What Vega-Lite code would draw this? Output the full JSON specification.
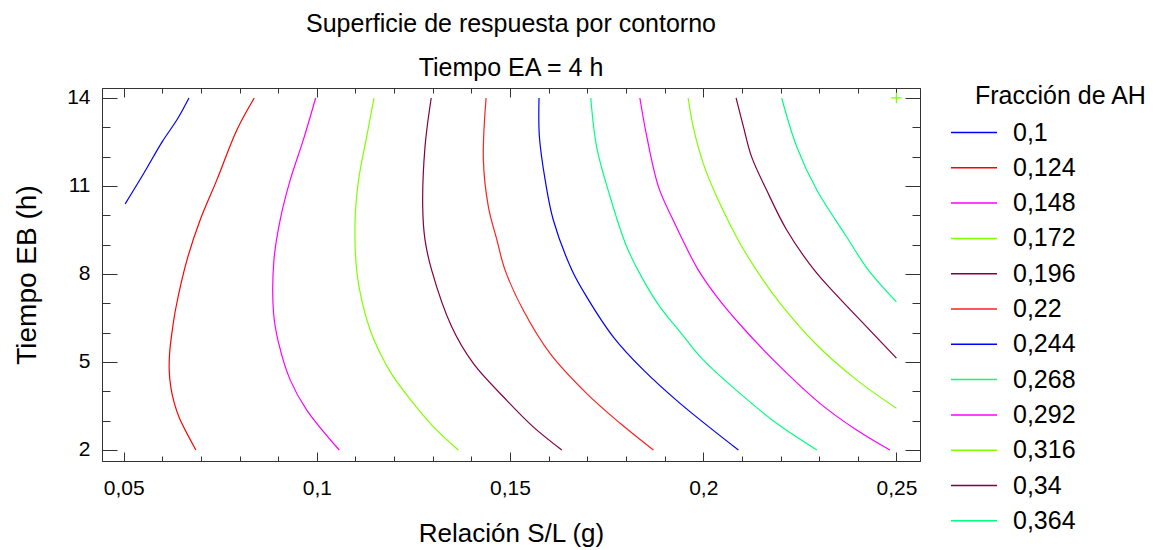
{
  "$schema": "https://vega.github.io/schema/vega-lite/v6.json",
  "autosize": "none",
  "width": 818,
  "height": 373,
  "padding": {"left": 102, "top": 88, "right": 241, "bottom": 89},
  "background": "#ffffff",
  "config": {
    "font": "Liberation Sans",
    "view": {"stroke": "#333333", "strokeWidth": 1},
    "axis": {"grid": false, "domainColor": "#333333", "tickColor": "#333333", "labelColor": "#000000", "titleColor": "#000000", "titleFontWeight": "normal", "labelFont": "Liberation Sans", "titleFont": "Liberation Sans"}
  },
  "title": {
    "text": ["Superficie de respuesta por contorno", "Tiempo EA = 4 h"],
    "fontSize": 25,
    "font": "Liberation Sans",
    "fontWeight": "normal",
    "color": "#000000",
    "lineHeight": 44,
    "baseline": "bottom",
    "anchor": "middle",
    "frame": "group",
    "offset": -22
  },
  "datasets": {
    "contornos": [
      {"n": "0,1", "o": 0, "x": 0.0504, "y": 10.39},
      {"n": "0,1", "o": 1, "x": 0.0553, "y": 11.45},
      {"n": "0,1", "o": 2, "x": 0.0600, "y": 12.51},
      {"n": "0,1", "o": 3, "x": 0.0640, "y": 13.30},
      {"n": "0,1", "o": 4, "x": 0.0669, "y": 14.0},

      {"n": "0,124", "o": 0, "x": 0.0838, "y": 14.0},
      {"n": "0,124", "o": 1, "x": 0.0793, "y": 12.91},
      {"n": "0,124", "o": 2, "x": 0.0741, "y": 11.20},
      {"n": "0,124", "o": 3, "x": 0.0698, "y": 9.84},
      {"n": "0,124", "o": 4, "x": 0.0664, "y": 8.48},
      {"n": "0,124", "o": 5, "x": 0.0636, "y": 6.90},
      {"n": "0,124", "o": 6, "x": 0.0625, "y": 6.00},
      {"n": "0,124", "o": 7, "x": 0.0619, "y": 5.30},
      {"n": "0,124", "o": 8, "x": 0.0618, "y": 4.70},
      {"n": "0,124", "o": 9, "x": 0.0622, "y": 4.15},
      {"n": "0,124", "o": 10, "x": 0.0630, "y": 3.65},
      {"n": "0,124", "o": 11, "x": 0.0644, "y": 3.10},
      {"n": "0,124", "o": 12, "x": 0.0687, "y": 2.0},

      {"n": "0,148", "o": 0, "x": 0.0997, "y": 14.0},
      {"n": "0,148", "o": 1, "x": 0.0965, "y": 12.57},
      {"n": "0,148", "o": 2, "x": 0.0931, "y": 11.20},
      {"n": "0,148", "o": 3, "x": 0.0905, "y": 9.84},
      {"n": "0,148", "o": 4, "x": 0.0889, "y": 8.48},
      {"n": "0,148", "o": 5, "x": 0.0888, "y": 6.67},
      {"n": "0,148", "o": 6, "x": 0.0901, "y": 5.65},
      {"n": "0,148", "o": 7, "x": 0.0931, "y": 4.39},
      {"n": "0,148", "o": 8, "x": 0.0974, "y": 3.36},
      {"n": "0,148", "o": 9, "x": 0.1058, "y": 2.0},

      {"n": "0,172", "o": 0, "x": 0.1148, "y": 14.0},
      {"n": "0,172", "o": 1, "x": 0.1129, "y": 12.68},
      {"n": "0,172", "o": 2, "x": 0.1108, "y": 11.20},
      {"n": "0,172", "o": 3, "x": 0.1099, "y": 9.84},
      {"n": "0,172", "o": 4, "x": 0.1103, "y": 8.14},
      {"n": "0,172", "o": 5, "x": 0.1116, "y": 7.11},
      {"n": "0,172", "o": 6, "x": 0.1138, "y": 6.09},
      {"n": "0,172", "o": 7, "x": 0.1164, "y": 5.30},
      {"n": "0,172", "o": 8, "x": 0.1198, "y": 4.50},
      {"n": "0,172", "o": 9, "x": 0.1250, "y": 3.59},
      {"n": "0,172", "o": 10, "x": 0.1302, "y": 2.79},
      {"n": "0,172", "o": 11, "x": 0.1366, "y": 2.0},

      {"n": "0,196", "o": 0, "x": 0.1296, "y": 14.0},
      {"n": "0,196", "o": 1, "x": 0.1280, "y": 12.34},
      {"n": "0,196", "o": 2, "x": 0.1274, "y": 10.29},
      {"n": "0,196", "o": 3, "x": 0.1280, "y": 9.16},
      {"n": "0,196", "o": 4, "x": 0.1297, "y": 8.14},
      {"n": "0,196", "o": 5, "x": 0.1349, "y": 6.20},
      {"n": "0,196", "o": 6, "x": 0.1405, "y": 4.95},
      {"n": "0,196", "o": 7, "x": 0.1491, "y": 3.70},
      {"n": "0,196", "o": 8, "x": 0.1560, "y": 2.79},
      {"n": "0,196", "o": 9, "x": 0.1634, "y": 2.0},

      {"n": "0,22", "o": 0, "x": 0.1438, "y": 14.0},
      {"n": "0,22", "o": 1, "x": 0.1431, "y": 11.89},
      {"n": "0,22", "o": 2, "x": 0.1444, "y": 10.29},
      {"n": "0,22", "o": 3, "x": 0.1466, "y": 9.16},
      {"n": "0,22", "o": 4, "x": 0.1487, "y": 8.14},
      {"n": "0,22", "o": 5, "x": 0.1534, "y": 6.77},
      {"n": "0,22", "o": 6, "x": 0.1603, "y": 5.30},
      {"n": "0,22", "o": 7, "x": 0.1698, "y": 3.93},
      {"n": "0,22", "o": 8, "x": 0.1785, "y": 2.91},
      {"n": "0,22", "o": 9, "x": 0.1871, "y": 2.0},

      {"n": "0,244", "o": 0, "x": 0.1575, "y": 14.0},
      {"n": "0,244", "o": 1, "x": 0.1576, "y": 12.68},
      {"n": "0,244", "o": 2, "x": 0.1591, "y": 11.20},
      {"n": "0,244", "o": 3, "x": 0.1612, "y": 9.84},
      {"n": "0,244", "o": 4, "x": 0.1660, "y": 8.14},
      {"n": "0,244", "o": 5, "x": 0.1698, "y": 7.23},
      {"n": "0,244", "o": 6, "x": 0.1767, "y": 5.86},
      {"n": "0,244", "o": 7, "x": 0.1845, "y": 4.73},
      {"n": "0,244", "o": 8, "x": 0.1940, "y": 3.59},
      {"n": "0,244", "o": 9, "x": 0.2091, "y": 2.0},

      {"n": "0,268", "o": 0, "x": 0.1709, "y": 14.0},
      {"n": "0,268", "o": 1, "x": 0.1724, "y": 12.34},
      {"n": "0,268", "o": 2, "x": 0.1759, "y": 10.63},
      {"n": "0,268", "o": 3, "x": 0.1802, "y": 8.93},
      {"n": "0,268", "o": 4, "x": 0.1845, "y": 7.79},
      {"n": "0,268", "o": 5, "x": 0.1888, "y": 6.88},
      {"n": "0,268", "o": 6, "x": 0.1940, "y": 6.03},
      {"n": "0,268", "o": 7, "x": 0.2000, "y": 5.07},
      {"n": "0,268", "o": 8, "x": 0.2095, "y": 3.93},
      {"n": "0,268", "o": 9, "x": 0.2190, "y": 2.91},
      {"n": "0,268", "o": 10, "x": 0.2294, "y": 2.0},

      {"n": "0,292", "o": 0, "x": 0.1836, "y": 14.0},
      {"n": "0,292", "o": 1, "x": 0.1854, "y": 12.68},
      {"n": "0,292", "o": 2, "x": 0.1884, "y": 10.98},
      {"n": "0,292", "o": 3, "x": 0.1922, "y": 9.84},
      {"n": "0,292", "o": 4, "x": 0.1987, "y": 8.14},
      {"n": "0,292", "o": 5, "x": 0.2035, "y": 7.23},
      {"n": "0,292", "o": 6, "x": 0.2104, "y": 6.15},
      {"n": "0,292", "o": 7, "x": 0.2199, "y": 4.84},
      {"n": "0,292", "o": 8, "x": 0.2302, "y": 3.59},
      {"n": "0,292", "o": 9, "x": 0.2397, "y": 2.68},
      {"n": "0,292", "o": 10, "x": 0.2483, "y": 2.0},

      {"n": "0,316", "o": 0, "x": 0.1961, "y": 14.0},
      {"n": "0,316", "o": 1, "x": 0.1974, "y": 13.02},
      {"n": "0,316", "o": 2, "x": 0.2000, "y": 11.77},
      {"n": "0,316", "o": 3, "x": 0.2035, "y": 10.63},
      {"n": "0,316", "o": 4, "x": 0.2095, "y": 9.05},
      {"n": "0,316", "o": 5, "x": 0.2155, "y": 7.79},
      {"n": "0,316", "o": 6, "x": 0.2199, "y": 7.00},
      {"n": "0,316", "o": 7, "x": 0.2294, "y": 5.58},
      {"n": "0,316", "o": 8, "x": 0.2397, "y": 4.39},
      {"n": "0,316", "o": 9, "x": 0.2500, "y": 3.42},

      {"n": "0,34", "o": 0, "x": 0.2085, "y": 14.0},
      {"n": "0,34", "o": 1, "x": 0.2104, "y": 13.02},
      {"n": "0,34", "o": 2, "x": 0.2125, "y": 12.0},
      {"n": "0,34", "o": 3, "x": 0.2164, "y": 10.86},
      {"n": "0,34", "o": 4, "x": 0.2216, "y": 9.50},
      {"n": "0,34", "o": 5, "x": 0.2287, "y": 8.14},
      {"n": "0,34", "o": 6, "x": 0.2345, "y": 7.28},
      {"n": "0,34", "o": 7, "x": 0.2423, "y": 6.20},
      {"n": "0,34", "o": 8, "x": 0.2500, "y": 5.13},

      {"n": "0,364", "o": 0, "x": 0.2203, "y": 14.0},
      {"n": "0,364", "o": 1, "x": 0.2242, "y": 12.34},
      {"n": "0,364", "o": 2, "x": 0.2294, "y": 10.86},
      {"n": "0,364", "o": 3, "x": 0.2371, "y": 9.27},
      {"n": "0,364", "o": 4, "x": 0.2427, "y": 8.14},
      {"n": "0,364", "o": 5, "x": 0.2500, "y": 7.05}
    ],
    "marcador": [{"x": 0.25, "y": 14}]
  },
  "layer": [
    {
      "data": {"name": "contornos"},
      "mark": {"type": "line", "strokeWidth": 1.2, "interpolate": "catmull-rom"},
      "encoding": {
        "x": {
          "field": "x", "type": "quantitative",
          "scale": {"domain": [0.0444, 0.2561], "nice": false, "zero": false},
          "axis": {
            "orient": "bottom",
            "values": [0.05,0.06,0.07,0.08,0.09,0.1,0.11,0.12,0.13,0.14,0.15,0.16,0.17,0.18,0.19,0.2,0.21,0.22,0.23,0.24,0.25],
            "labelExpr": "abs(datum.value*20-round(datum.value*20))<0.001 ? replace(toString(round(datum.value*100)/100), '.', ',') : ''",
            "tickSize": {"condition": {"test": "abs(datum.value*20-round(datum.value*20))<0.001", "value": -9}, "value": -5},
            "labelFontSize": 21,
            "labelPadding": 25,
            "labelFlush": false,
            "labelOverlap": false,
            "title": "Relación S/L (g)",
            "titleFontSize": 26,
            "titlePadding": 18
          }
        },
        "y": {
          "field": "y", "type": "quantitative",
          "scale": {"domain": [1.625, 14.34], "nice": false, "zero": false},
          "axis": {
            "orient": "left",
            "values": [2,3,4,5,6,7,8,9,10,11,12,13,14],
            "labelExpr": "(datum.value-2)%3==0 ? toString(datum.value) : ''",
            "tickSize": {"condition": {"test": "(datum.value-2)%3==0", "value": -15}, "value": -8},
            "labelFontSize": 21,
            "labelPadding": 27,
            "labelOverlap": false,
            "title": "Tiempo EB (h)",
            "titleFontSize": 28,
            "titlePadding": 25
          }
        },
        "color": {
          "field": "n", "type": "nominal",
          "scale": {
            "domain": ["0,1","0,124","0,148","0,172","0,196","0,22","0,244","0,268","0,292","0,316","0,34","0,364"],
            "range": ["#0000ff","#ff0000","#ff00ff","#80ff00","#800040","#ff2020","#0000ff","#00ff80","#ff00ff","#80ff00","#800040","#00ff80"]
          },
          "legend": {
            "orient": "none",
            "legendX": 873,
            "legendY": -4,
            "title": "Fracción de AH",
            "titleFontSize": 25,
            "titleFont": "Liberation Sans",
            "titleFontWeight": "normal",
            "titleColor": "#000000",
            "labelFontSize": 25,
            "labelFont": "Liberation Sans",
            "labelColor": "#000000",
            "symbolType": "M-1.84,0L1.84,0",
            "symbolSize": 625,
            "symbolStrokeWidth": 1.5,
            "rowPadding": 8.3,
            "titlePadding": 10,
            "labelLimit": 200,
            "padding": 0,
            "encode": {
              "symbols": {"update": {"size": {"value": 625}, "x": {"value": -1}}},
              "labels": {"update": {"x": {"value": 38}}}
            }
          }
        },
        "order": {"field": "o", "type": "quantitative"}
      }
    },
    {
      "data": {"name": "marcador"},
      "mark": {"type": "point", "shape": "M-1,0L1,0M0,-1L0,1", "filled": false, "stroke": "#80ff00", "strokeWidth": 1.3, "size": 110, "opacity": 1},
      "encoding": {
        "x": {
          "field": "x", "type": "quantitative",
          "axis": {
            "orient": "top",
            "values": [0.05,0.06,0.07,0.08,0.09,0.1,0.11,0.12,0.13,0.14,0.15,0.16,0.17,0.18,0.19,0.2,0.21,0.22,0.23,0.24,0.25],
            "labels": false,
            "title": null,
            "tickSize": {"condition": {"test": "abs(datum.value*20-round(datum.value*20))<0.001", "value": -9}, "value": -5}
          }
        },
        "y": {
          "field": "y", "type": "quantitative",
          "axis": {
            "orient": "right",
            "values": [2,3,4,5,6,7,8,9,10,11,12,13,14],
            "labels": false,
            "title": null,
            "tickSize": {"condition": {"test": "(datum.value-2)%3==0", "value": -15}, "value": -8}
          }
        }
      }
    }
  ],
  "resolve": {"axis": {"x": "independent", "y": "independent"}}
}
